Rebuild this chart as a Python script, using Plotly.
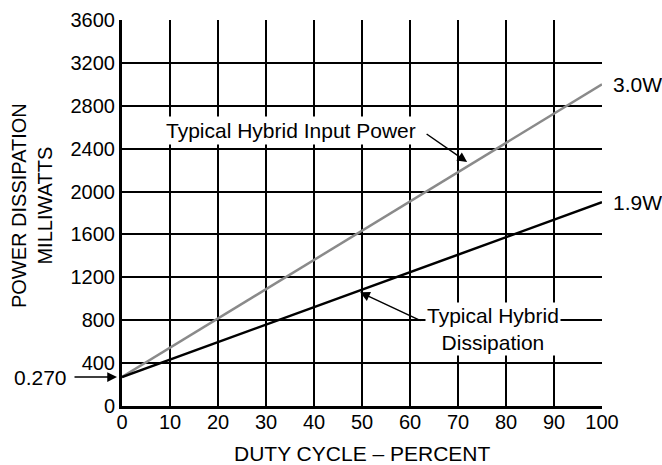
import plotly.graph_objects as go

duty = [0, 100]
input_power = [270, 3000]
dissipation = [270, 1900]
x_ticks = list(range(0, 101, 10))
y_ticks = list(range(0, 3601, 400))

FONT = "Liberation Sans, Arial, sans-serif"
TF = 20  # tick font
AF = 21  # annotation font

fig = go.Figure()
fig.add_trace(go.Scatter(x=duty, y=input_power, mode="lines",
                         line=dict(color="#8a8a8a", width=2.5), showlegend=False,
                         hoverinfo="skip"))
fig.add_trace(go.Scatter(x=duty, y=dissipation, mode="lines",
                         line=dict(color="black", width=2.5), showlegend=False,
                         hoverinfo="skip"))

axis_common = dict(showgrid=True, gridcolor="black", gridwidth=2,
                   showline=True, linecolor="black", linewidth=3,
                   zeroline=False, ticks="", ticklen=0, automargin=False,
                   tickfont=dict(size=TF))

fig.update_layout(
    width=662, height=465,
    margin=dict(l=122, r=60, t=20, b=59),
    paper_bgcolor="white", plot_bgcolor="white",
    font=dict(family=FONT, size=TF, color="black"),
    xaxis=dict(range=[0, 100], tickvals=x_ticks, ticktext=[str(v) for v in x_ticks],
               ticklabelstandoff=-4, **axis_common),
    yaxis=dict(range=[0, 3600], tickvals=y_ticks, ticktext=[str(v) for v in y_ticks],
               **axis_common),
)

ann = []
# x axis title
ann.append(dict(text="DUTY CYCLE \u2013 PERCENT", xref="paper", yref="paper",
                x=0.5, y=0, yshift=-47, xanchor="center", yanchor="middle",
                showarrow=False, font=dict(size=AF)))
# y axis title (two lines)
ann.append(dict(text="POWER DISSIPATION<br>MILLIWATTS", xref="paper", yref="paper",
                x=0, y=0.518, xshift=-90, xanchor="center", yanchor="middle",
                showarrow=False, textangle=-90, font=dict(size=TF), align="center"))
# 0.270 label and arrow
ann.append(dict(text="0.270", xref="x", yref="y", x=0, y=270, xshift=-82,
                xanchor="center", yanchor="middle", showarrow=False, font=dict(size=AF)))
ann.append(dict(text="", xref="x", yref="y", x=0, y=270, ax=-49, ay=0,
                showarrow=True, arrowhead=2, arrowsize=1.3, arrowwidth=1.5,
                standoff=5, arrowcolor="black"))
# Input power label
ann.append(dict(text="Typical Hybrid Input Power", xref="x", yref="y", x=35.2, y=2565,
                xanchor="center", yanchor="middle",
                showarrow=False, bgcolor="white", font=dict(size=AF), borderpad=2))
ann.append(dict(text="", xref="x", yref="y", x=71.9, y=2276, ax=-42, ay=-29,
                showarrow=True, arrowhead=2, arrowsize=1.3, arrowwidth=1.5,
                standoff=0, arrowcolor="black"))
# Dissipation label
ann.append(dict(text="Typical Hybrid<br>Dissipation", xref="x", yref="y", x=77.3, y=720,
                xanchor="center", yanchor="middle",
                showarrow=False, bgcolor="white", font=dict(size=AF), borderpad=1,
                align="center"))
ann.append(dict(text="", xref="x", yref="y", x=49.6, y=1060, ax=62, ay=29,
                showarrow=True, arrowhead=2, arrowsize=1.3, arrowwidth=1.5,
                standoff=0, arrowcolor="black"))
# End labels
ann.append(dict(text="3.0W", xref="paper", yref="y", x=1, y=input_power[-1], xshift=9,
                xanchor="left", yanchor="middle", showarrow=False, font=dict(size=AF)))
ann.append(dict(text="1.9W", xref="paper", yref="y", x=1, y=dissipation[-1], xshift=9,
                xanchor="left", yanchor="middle", showarrow=False, font=dict(size=AF)))
fig.update_layout(annotations=ann)

fig.write_html("out.html",
               config={"displayModeBar": False},
               post_script="document.body.style.margin='0';document.body.style.overflow='hidden';")
